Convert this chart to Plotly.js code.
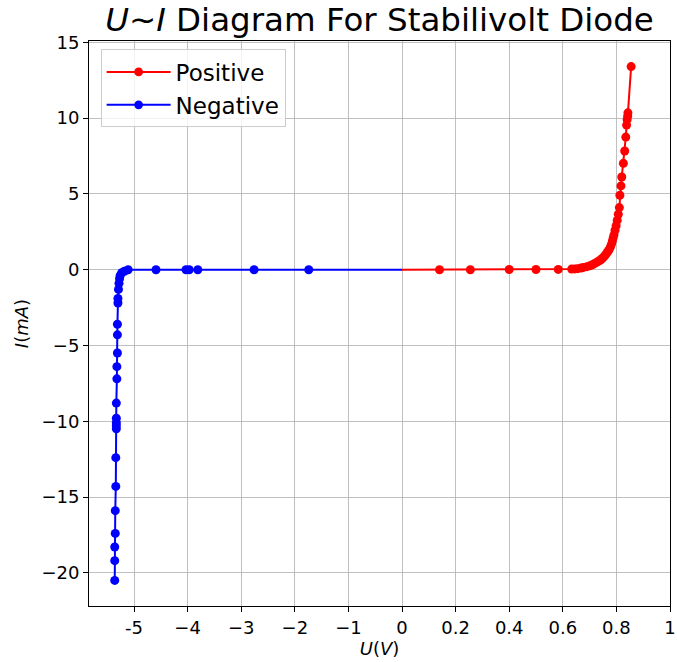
<!DOCTYPE html>
<html>
<head>
<meta charset="utf-8">
<script src="https://cdn.plot.ly/plotly-3.0.1.min.js"></script>
<style>html,body{margin:0;padding:0;background:#fff;}#chart{width:677px;height:662px;}</style>
</head>
<body>
<div id="chart"></div>
<script>
// Positive branch (forward bias): voltage U (V), current I (mA)
const posU = [0, 0.14, 0.255, 0.40, 0.50, 0.583, 0.633, 0.645, 0.655, 0.668, 0.677, 0.690, 0.701, 0.710, 0.718, 0.726, 0.733, 0.740, 0.746, 0.751, 0.756, 0.761, 0.766, 0.770, 0.774, 0.778, 0.782, 0.785, 0.788, 0.791, 0.795, 0.799, 0.803, 0.807, 0.811, 0.813, 0.817, 0.820, 0.826, 0.831, 0.835, 0.838, 0.840, 0.842, 0.843, 0.855];
const posI = [0, 0.00, 0.00, 0.01, 0.01, 0.02, 0.04, 0.05, 0.07, 0.11, 0.15, 0.20, 0.26, 0.32, 0.40, 0.48, 0.56, 0.64, 0.72, 0.81, 0.91, 1.02, 1.14, 1.25, 1.36, 1.52, 1.70, 1.90, 2.10, 2.30, 2.60, 2.90, 3.25, 3.66, 4.10, 4.91, 5.53, 6.12, 7.02, 7.83, 8.75, 9.54, 9.90, 10.13, 10.35, 13.4];

// Negative branch (reverse bias)
const negU = [0, -1.74, -2.76, -3.81, -3.97, -4.03, -4.59, -5.11, -5.18, -5.23, -5.26, -5.27, -5.28, -5.29, -5.30, -5.30, -5.31, -5.31, -5.31, -5.32, -5.32, -5.33, -5.33, -5.33, -5.33, -5.33, -5.34, -5.34, -5.35, -5.35, -5.36, -5.36, -5.36];
const negI = [0, 0.00, 0.00, 0.00, 0.00, 0.00, 0.00, 0.00, -0.10, -0.20, -0.40, -0.60, -0.90, -1.30, -1.90, -2.20, -3.60, -4.30, -5.50, -6.40, -7.20, -8.80, -9.80, -10.10, -10.30, -10.50, -12.40, -14.30, -15.90, -17.40, -18.30, -19.20, -20.50];

// Axis ticks: the positive side is drawn 5x stretched
const xTickVals = [-5, -4, -3, -2, -1, 0, 1, 2, 3, 4, 5];
const xTickText = ['-5', '\u22124', '\u22123', '\u22122', '\u22121', '0', '0.2', '0.4', '0.6', '0.8', '1'];
const yTickVals = [-20, -15, -10, -5, 0, 5, 10, 15];
const posScale = 5;

const FONT = 'DejaVu Sans, Verdana, sans-serif';
const markerSizes = (u, i) => u.map((v, k) => (v === 0 && i[k] === 0) ? 0 : 9);

const traces = [
  {
    x: posU.map(v => v * posScale), y: posI, name: 'Positive', type: 'scatter', mode: 'lines+markers',
    line: {color: '#ff0000', width: 2},
    marker: {color: '#ff0000', size: markerSizes(posU, posI), opacity: 1, line: {width: 0}}
  },
  {
    x: negU, y: negI, name: 'Negative', type: 'scatter', mode: 'lines+markers',
    line: {color: '#0000ff', width: 2},
    marker: {color: '#0000ff', size: markerSizes(negU, negI), opacity: 1, line: {width: 0}}
  }
];

const layout = {
  width: 677, height: 662,
  margin: {l: 89, r: 7, t: 41, b: 56, pad: 0},
  paper_bgcolor: '#ffffff', plot_bgcolor: '#ffffff',
  font: {family: FONT, size: 18, color: '#000'},
  title: {
    text: '<i>U</i>~<i>I</i> Diagram For Stabilivolt Diode',
    font: {family: FONT, size: 32.5, color: '#000'},
    x: 0.5, xref: 'paper', y: 1 - 20 / 662, yref: 'container', yanchor: 'middle'
  },
  showlegend: true,
  legend: {
    x: 0.02, y: 0.985, xanchor: 'left', yanchor: 'top',
    bgcolor: 'rgba(255,255,255,0.8)', bordercolor: '#cccccc', borderwidth: 1,
    itemwidth: 64,
    font: {family: FONT, size: 23, color: '#000'}
  },
  xaxis: {
    range: [-5.84, 5],
    tickmode: 'array', tickvals: xTickVals, ticktext: xTickText,
    showgrid: true, gridcolor: '#b0b0b0', gridwidth: 0.8,
    zeroline: false, showline: true, linecolor: '#000', linewidth: 1, mirror: true,
    ticks: 'outside', ticklen: 5, tickcolor: '#000',
    tickfont: {family: FONT, size: 18, color: '#000'},
    title: {text: '<i>U</i>(<i>V</i>)', font: {family: FONT, size: 18, color: '#000'}, standoff: 4}
  },
  yaxis: {
    range: [-22.19, 15.09],
    tickmode: 'array', tickvals: yTickVals,
    showgrid: true, gridcolor: '#b0b0b0', gridwidth: 0.8,
    zeroline: false, showline: true, linecolor: '#000', linewidth: 1, mirror: true,
    ticks: 'outside', ticklen: 5, tickcolor: '#000',
    tickfont: {family: FONT, size: 18, color: '#000'},
    title: {text: '<i>I</i>(<i>mA</i>)', font: {family: FONT, size: 18, color: '#000'}, standoff: 8}
  }
};

Plotly.newPlot('chart', traces, layout, {displayModeBar: false, staticPlot: true});
</script>
</body>
</html>
